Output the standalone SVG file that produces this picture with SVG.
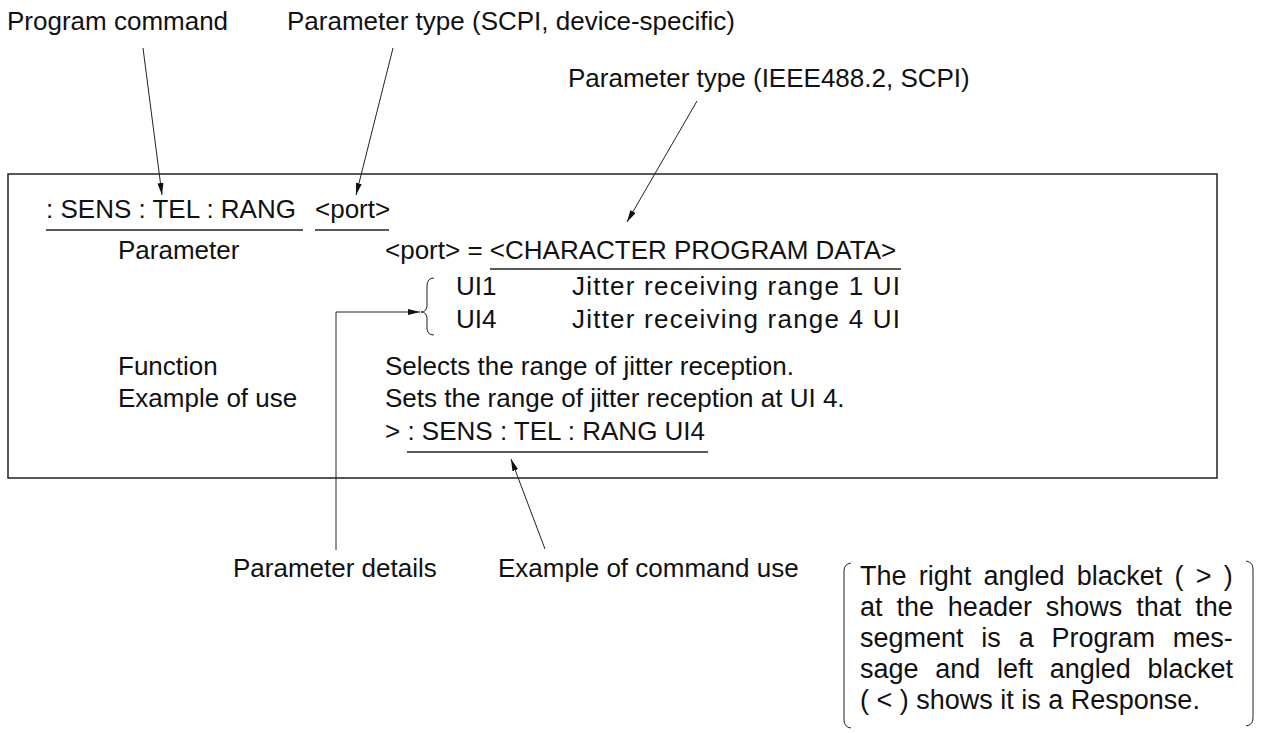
<svg xmlns="http://www.w3.org/2000/svg" width="1264" height="733" viewBox="0 0 1264 733">
<style>
text{font-family:"Liberation Sans",Arial,Helvetica,sans-serif;font-size:26px;fill:#111}
.note{font-size:27px}
.ln{stroke:#222;stroke-width:1;fill:none}
.ul{stroke:#222;stroke-width:1.3;fill:none}
.box{stroke:#222;stroke-width:1.5;fill:none}
</style>
<defs>
<marker id="ah" viewBox="0 0 12 6" refX="12" refY="3" markerWidth="12" markerHeight="6" markerUnits="userSpaceOnUse" orient="auto">
<path d="M0,0 L12,3 L0,6 z" fill="#111"/>
</marker>
</defs>
<rect width="1264" height="733" fill="#fff"/>
<g id="label-program-command"><text x="7" y="30">Program command</text></g>
<g id="label-param-type-scpi"><text x="287" y="30">Parameter type (SCPI, device-specific)</text></g>
<g id="label-param-type-ieee"><text x="568" y="87">Parameter type (IEEE488.2, SCPI)</text></g>
<g id="command-box">
<rect class="box" x="8" y="174" width="1209" height="304"/>
<text x="46" y="218">: SENS : TEL : RANG</text>
<text x="315" y="218">&lt;port&gt;</text>
<line class="ul" x1="46" y1="230" x2="303" y2="230"/>
<line class="ul" x1="315" y1="230" x2="389" y2="230"/>
<text x="118" y="259">Parameter</text>
<text x="385" y="259">&lt;port&gt; = &lt;CHARACTER PROGRAM DATA&gt;</text>
<line class="ul" x1="490" y1="269" x2="901" y2="269"/>
<path class="ln" d="M434,278 Q427,278 427,286 L427,305 Q427,312 421,312 Q427,312 427,319 L427,328 Q427,335 434,335"/>
<text x="456" y="295">UI1</text>
<text x="572" y="295" textLength="328" lengthAdjust="spacing">Jitter receiving range 1 UI</text>
<text x="456" y="328">UI4</text>
<text x="572" y="328" textLength="328" lengthAdjust="spacing">Jitter receiving range 4 UI</text>
<text x="118" y="375">Function</text>
<text x="385" y="375">Selects the range of jitter reception.</text>
<text x="118" y="407">Example of use</text>
<text x="385" y="407">Sets the range of jitter reception at UI 4.</text>
<text x="385" y="440">&gt; : SENS : TEL : RANG UI4</text>
<line class="ul" x1="407" y1="452" x2="708" y2="452"/>
</g>
<g id="label-parameter-details"><text x="233" y="577">Parameter details</text></g>
<g id="label-example-use"><text x="498" y="577">Example of command use</text></g>
<g id="note">
<path class="ln" d="M851,563 Q844,564 844,571 L844,720 Q844,727 851,728"/>
<path class="ln" d="M1246,561 Q1253,562 1253,569 L1253,718 Q1253,725 1246,726"/>
<text class="note" x="860" y="585" style="word-spacing:4.7px">The right angled blacket ( &gt; )</text>
<text class="note" x="860" y="616" style="word-spacing:6.4px">at the header shows that the</text>
<text class="note" x="860" y="647" style="word-spacing:10.3px">segment is a Program mes-</text>
<text class="note" x="860" y="678" style="word-spacing:9.2px">sage and left angled blacket</text>
<text class="note" x="860" y="709">( &lt; ) shows it is a Response.</text>
</g>
<g id="connectors">
<line class="ln" x1="143" y1="48" x2="162" y2="195" marker-end="url(#ah)"/>
<line class="ln" x1="393" y1="48" x2="356" y2="195" marker-end="url(#ah)"/>
<line class="ln" x1="697" y1="101" x2="627" y2="222" marker-end="url(#ah)"/>
<polyline class="ln" points="336,550 336,312 420,312" marker-end="url(#ah)"/>
<line class="ln" x1="545" y1="549" x2="511" y2="459" marker-end="url(#ah)"/>
</g>
</svg>
